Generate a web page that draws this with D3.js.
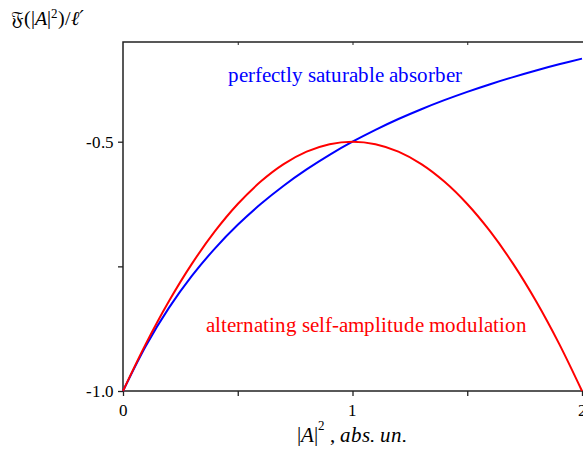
<!DOCTYPE html>
<html><head><meta charset="utf-8">
<script src="https://cdn.jsdelivr.net/npm/d3@7"></script>
<style>
@font-face{font-family:"ChartSerif";src:local("Liberation Serif"),local("LiberationSerif"),local("Times New Roman");font-style:normal;font-weight:400}
@font-face{font-family:"ChartSerif";src:local("Liberation Serif Italic"),local("LiberationSerif-Italic"),local("Times New Roman Italic");font-style:italic;font-weight:400}
body{margin:0;background:#fff}svg{display:block}
</style>
</head><body><svg id="c" width="583" height="451"></svg>
<script>
const xValues = [0,0.1,0.2,0.3,0.4,0.5,0.6,0.7,0.8,0.9,1.0,1.1,1.2,1.3,1.4,1.5,1.6,1.7,1.8,1.9,2.0];
const saturableAbsorber = [-1,-0.9091,-0.8333,-0.7692,-0.7143,-0.6667,-0.625,-0.5882,-0.5556,-0.5263,-0.5,-0.4762,-0.4545,-0.4348,-0.4167,-0.4,-0.3846,-0.3704,-0.3571,-0.3448,-0.3333];
const alternatingSAM = [-1,-0.905,-0.82,-0.745,-0.68,-0.625,-0.58,-0.545,-0.52,-0.505,-0.5,-0.505,-0.52,-0.545,-0.58,-0.625,-0.68,-0.745,-0.82,-0.905,-1];
const xTickLabels = ["0","1","2"];
const yTickLabels = ["-1.0","-0.5"];
const xMajor = [0,1,2], xMinor = [0.5,1.5];
const yMajor = [-1.0,-0.5], yMinor = [-0.75];

const svg = d3.select("#c");
const x = d3.scaleLinear().domain([0,2]).range([123,582]);
const y = d3.scaleLinear().domain([-1,-0.3]).range([391,42]);
const axisColor = "#222";
const serif = "ChartSerif, 'Liberation Serif', Times, serif";
const ser = sel => sel.attr("font-family", serif).style("font-family", serif);

svg.append("rect").attr("x",x(0)).attr("y",y(-0.3)).attr("width",x(2)-x(0)+3).attr("height",y(-1)-y(-0.3))
  .attr("fill","none").attr("stroke",axisColor).attr("stroke-width",1.5);

svg.append("g").attr("transform",`translate(0,${y(-0.3)})`)
  .call(d3.axisTop(x).tickValues([0.5,1,1.5]).tickSize(-3).tickFormat(""))
  .call(g=>{g.select(".domain").remove();g.selectAll("line").attr("stroke",axisColor).attr("stroke-width",1);});

const gx = svg.append("g").attr("transform",`translate(0,${y(-1)})`)
  .call(d3.axisBottom(x).tickValues(xMajor.concat(xMinor)).tickSize(5).tickFormat(""));
gx.select(".domain").remove();
gx.selectAll("line").attr("stroke",axisColor).attr("stroke-width",1.3);

const gy = svg.append("g").attr("transform",`translate(${x(0)},0)`)
  .call(d3.axisLeft(y).tickValues(yMajor.concat(yMinor)).tickSize(5).tickFormat(""));
gy.select(".domain").remove();
gy.selectAll("line").attr("stroke",axisColor).attr("stroke-width",1.3);

const labels = svg.append("g").call(ser);

xMajor.forEach((v,i)=>{
  labels.append("text").call(ser).attr("x",x(v)).attr("y",y(-1)+25).attr("text-anchor","middle")
    .attr("font-size",17).attr("fill","#000").text(xTickLabels[i]);
});
yMajor.forEach((v,i)=>{
  labels.append("text").call(ser).attr("x",x(0)-9).attr("y",y(v)+6).attr("text-anchor","end")
    .attr("font-size",17).attr("fill","#000").text(yTickLabels[i]);
});

const line = d3.line().curve(d3.curveCatmullRom).x((d,i)=>x(xValues[i])).y(d=>y(d));
svg.append("path").datum(saturableAbsorber).attr("d",line).attr("fill","none").attr("stroke","#0000ff").attr("stroke-width",2);
svg.append("path").datum(alternatingSAM).attr("d",line).attr("fill","none").attr("stroke","#ff0000").attr("stroke-width",2);

labels.append("text").call(ser).attr("x",228).attr("y",82).attr("font-size",20.5).attr("fill","#0000ff").text("perfectly saturable absorber");
labels.append("text").call(ser).attr("x",206).attr("y",332).attr("font-size",20.5).attr("fill","#ff0000").text("alternating self-amplitude modulation");

const t = labels.append("text").call(ser).attr("x",11).attr("y",25).attr("font-size",20).attr("fill","#000");
t.append("tspan").attr("font-family","DejaVu Serif").style("font-family","'DejaVu Serif'").text("\u{1D509}");
t.append("tspan").call(ser).text("(|");
t.append("tspan").call(ser).style("font-style","italic").text("A");
t.append("tspan").call(ser).text("|");
t.append("tspan").call(ser).attr("dy",-7).attr("font-size",13).text("2");
t.append("tspan").call(ser).attr("dy",7).text(")/");
t.append("tspan").style("font-style","italic").attr("font-family","DejaVu Serif").style("font-family","'DejaVu Serif'").text("\u2113\u2032");

const xl = labels.append("text").call(ser).attr("x",297).attr("y",442).attr("font-size",21).attr("fill","#000");
xl.append("tspan").call(ser).text("|");
xl.append("tspan").call(ser).style("font-style","italic").text("A");
xl.append("tspan").call(ser).text("|");
xl.append("tspan").call(ser).attr("dy",-12).attr("font-size",13).text("2");
xl.append("tspan").call(ser).attr("dy",12).text(" , ");
xl.append("tspan").call(ser).style("font-style","italic").text("abs. un.");
</script></body></html>
